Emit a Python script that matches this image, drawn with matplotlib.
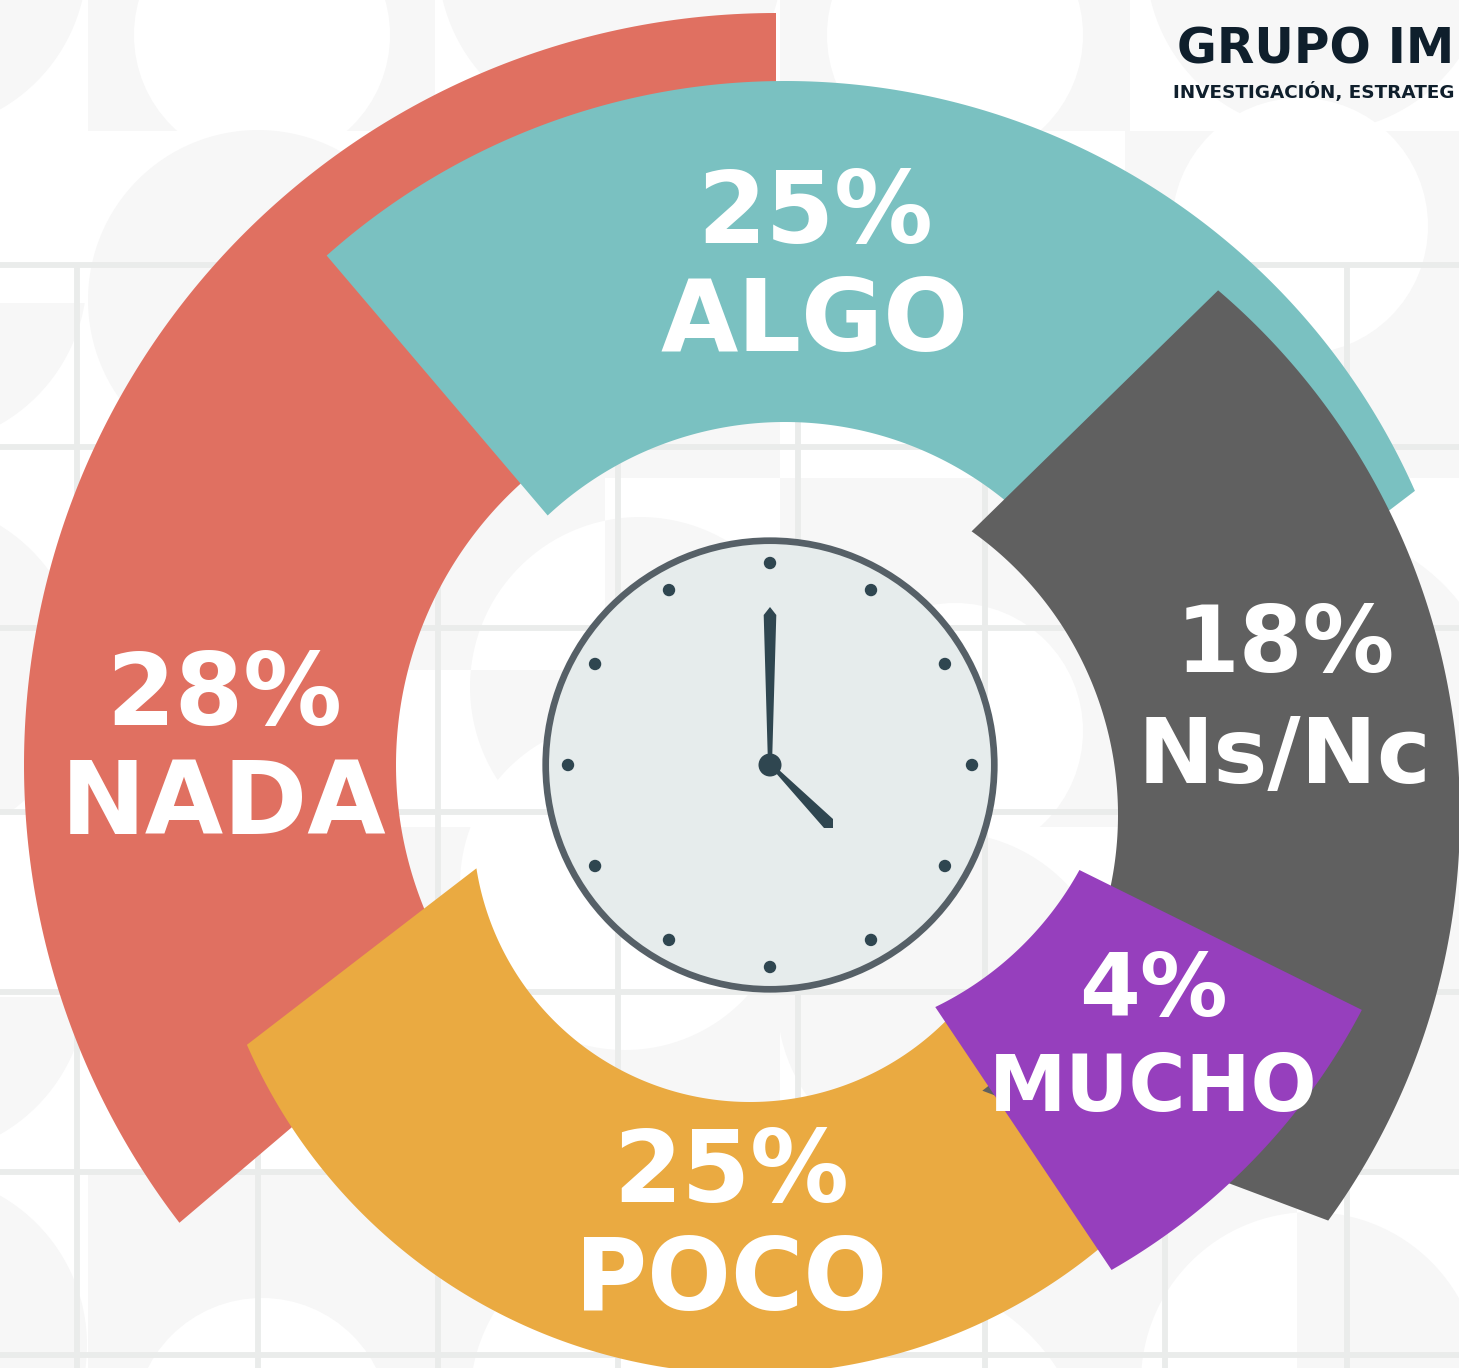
import numpy as np
import matplotlib
matplotlib.use("Agg")
import matplotlib.pyplot as plt
from matplotlib.patches import Polygon, Circle, Rectangle

W, H = 1459, 1368

categories = ["NADA", "ALGO", "POCO", "Ns/Nc", "MUCHO"]
percents = [28, 25, 25, 18, 4]
colors = ["#E07061", "#7AC1C1", "#EAAA41", "#606060", "#963FBD"]
logo_title = "GRUPO IM"
logo_sub = "INVESTIGACIÓN, ESTRATEG"

# ring-sector geometry (drawing order = list order): cx, cy, outer r, inner r,
# outer start/end angle, inner start/end angle
sectors = {
    "NADA":  (776, 765, 752, 380, 90, 217.5, 90, 214.7),
    "ALGO":  (785, 770, 689, 348, 23.9, 131.7, 10, 133),
    "POCO":  (750, 825, 549, 277, 203.6, 311, 189, 320),
    "Ns/Nc": (770, 815, 690, 348, -36, 49.5, -52.4, 54.6),
    "MUCHO": (792, 712, 643, 328, -60.2, -27.6, -64.1, -28.8),
}
# label anchors (horizontal centre, pct baseline, name baseline, sizes)
label_pos = {
    "NADA":  (224, 725, 834, 71, 73),
    "ALGO":  (815, 243, 351, 71, 72),
    "POCO":  (731, 1202, 1310, 71, 71),
    "Ns/Nc": (1285, 672, 783, 66, 65.5),
    "MUCHO": (1153, 1016, 1111, 63, 56),
}

fig = plt.figure(figsize=(W / 100, H / 100), dpi=100, facecolor="white")
ax = fig.add_axes([0, 0, 1, 1])
ax.set_xlim(0, W)
ax.set_ylim(H, 0)
ax.axis("off")

# --- background pattern -------------------------------------------------
TILE = "#F7F7F7"
def rect(x0, y0, x1, y1, c=TILE):
    ax.add_patch(Rectangle((x0, y0), x1 - x0, y1 - y0, fc=c, ec="none", zorder=1))
def circ(x, y, r, c=TILE, clip=None):
    p = Circle((x, y), r, fc=c, ec="none", zorder=1)
    ax.add_patch(p)
    if clip is not None:
        x0, y0, x1, y1 = clip
        p.set_clip_path(Rectangle((x0, y0), x1 - x0, y1 - y0, transform=ax.transData))

# top row
rect(88, 0, 435, 131); circ(262, 35, 128, "white")
rect(780, 0, 1130, 131); circ(955, 35, 128, "white")
circ(-85, -40, 172); circ(610, -40, 172); circ(1318, -40, 172)
# second row
circ(258, 300, 170)
rect(1125, 131, 1459, 478); circ(1300, 226, 128, "white")
rect(1392, 447, 1459, 478)
circ(-85, 275, 172, clip=(-300, 303, 88, 478))
circ(-90, 672, 172, clip=(-300, 490, 88, 812))
# around the clock
rect(380, 420, 780, 478)
rect(380, 478, 605, 670)
circ(640, 687, 170, "white", clip=(380, 478, 605, 670))
circ(640, 687, 170, TILE, clip=(605, 478, 780, 670))
circ(640, 687, 170, TILE, clip=(380, 670, 605, 827))
rect(780, 478, 1130, 827)
circ(955, 731, 128, "white", clip=(780, 478, 1130, 827))
# below the clock
rect(390, 827, 780, 1172)
circ(625, 885, 165, "white")
circ(945, 1000, 168)
# lower rows
circ(-85, 985, 172, clip=(-300, 997, 88, 1172))
circ(-85, 1345, 172, clip=(-300, 1172, 88, 1368))
rect(88, 1173, 1297, 1368)
circ(262, 1426, 128, "white")
circ(640, 1400, 170, "white")
circ(885, 1480, 205, "white")
circ(1311, 1382, 170, "white", clip=(1000, 1172, 1297, 1368))
circ(1311, 1382, 170, TILE, clip=(1297, 1172, 1459, 1368))
# right side
circ(1300, 728, 203)
rect(1345, 810, 1459, 1172)

GRID = "#EAECEB"
for y in (265, 447, 628, 812, 992, 1172, 1355):
    ax.plot([0, W], [y, y], color=GRID, lw=4.2, zorder=2, solid_capstyle="butt")
for x in (77, 258, 438, 618, 798, 985, 1165, 1347):
    ax.plot([x, x], [265, H], color=GRID, lw=4.2, zorder=2, solid_capstyle="butt")

# --- ring sectors -------------------------------------------------------
def sector_pts(cx, cy, R, r, a0, a1, b0, b1, n=200):
    ta = np.radians(np.linspace(a0, a1, n))
    tb = np.radians(np.linspace(b1, b0, n))
    xs = np.r_[cx + R * np.cos(ta), cx + r * np.cos(tb)]
    ys = np.r_[cy - R * np.sin(ta), cy - r * np.sin(tb)]
    return np.c_[xs, ys]

for cat, col, z in zip(categories, colors, (3, 4, 5, 6, 7)):
    ax.add_patch(Polygon(sector_pts(*sectors[cat]), closed=True, fc=col, ec="none", zorder=z))

# --- labels -------------------------------------------------------------
for cat, pct in zip(categories, percents):
    x, y1, y2, s1, s2 = label_pos[cat]
    ax.text(x, y1, f"{pct}%", color="white", fontsize=s1, fontweight="bold",
            ha="center", va="baseline", zorder=10)
    ax.text(x, y2, cat, color="white", fontsize=s2, fontweight="bold",
            ha="center", va="baseline", zorder=10)

# --- clock --------------------------------------------------------------
CX, CY = 770, 765
DARK = "#2F4650"
ax.add_patch(Circle((CX, CY), 224.3, fc="#E6ECEC", ec="#566067", lw=4.8, zorder=8))
for h in range(12):
    t = np.radians(30 * h)
    ax.add_patch(Circle((CX + 202 * np.sin(t), CY - 202 * np.cos(t)), 6.2, fc=DARK, ec="none", zorder=9))
ax.add_patch(Circle((CX, CY), 11.5, fc=DARK, ec="none", zorder=9))
long_hand = np.array([[-2, 0], [-6.3, -150], [0, -158], [6.3, -150], [2, 0]])
short_hand = np.array([[5, 7], [54, 63], [63, 63], [63, 54], [8, 4]])
for hand in (long_hand, short_hand):
    ax.add_patch(Polygon(hand + [CX, CY], closed=True, fc=DARK, ec="none", zorder=9))

# --- logo ---------------------------------------------------------------
ax.text(1177, 64, logo_title, color="#0F1F2C", fontsize=35, fontweight="bold",
        ha="left", va="baseline", zorder=10)
ax.text(1173, 98, logo_sub, color="#0F1F2C", fontsize=13.2, fontweight="bold",
        ha="left", va="baseline", zorder=10)

fig.savefig("out.png", dpi=100, facecolor="white")
